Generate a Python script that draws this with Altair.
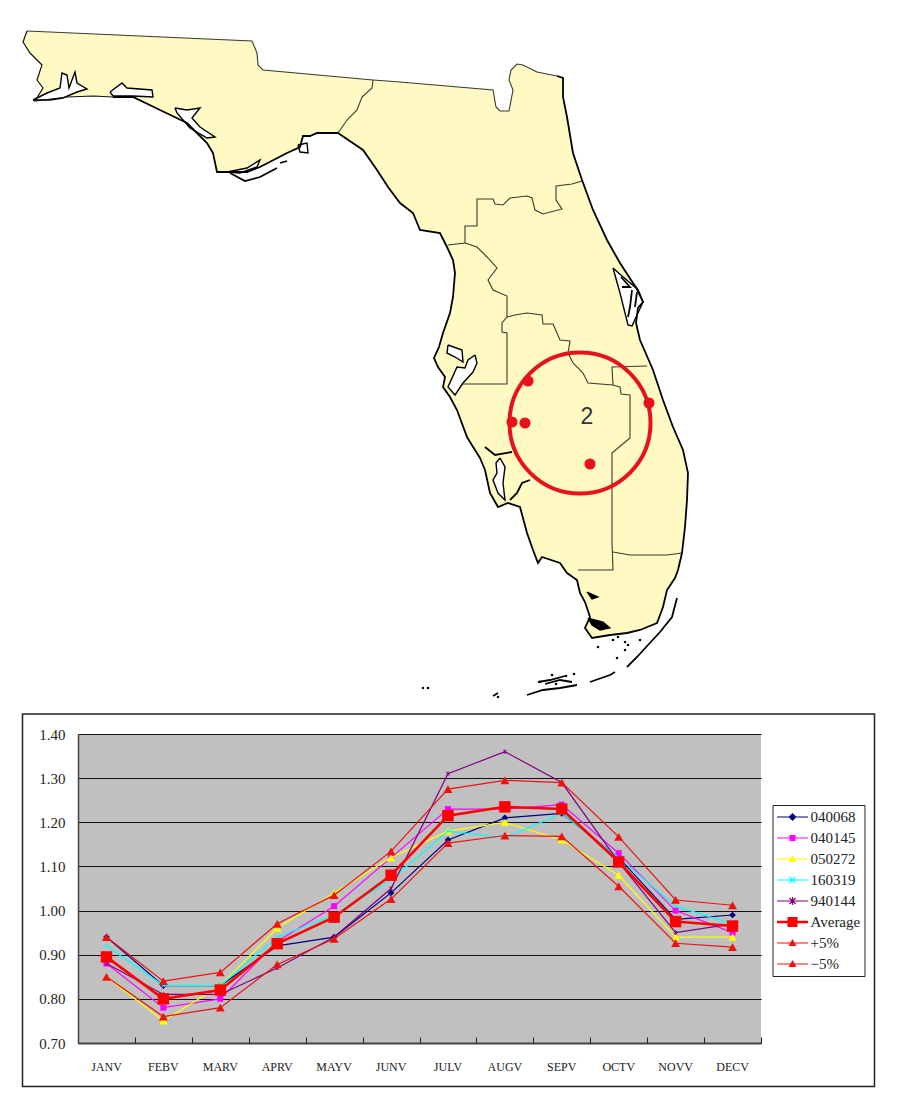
import altair as alt
import pandas as pd
import math

# ---------- line chart values ----------
months = ["JANV","FEBV","MARV","APRV","MAYV","JUNV","JULV","AUGV","SEPV","OCTV","NOVV","DECV"]
s040068 = [.94,.83,.83,.92,.94,1.04,1.16,1.21,1.22,1.12,.98,.99]
s040145 = [.88,.78,.80,.93,1.01,1.12,1.23,1.23,1.24,1.13,1.00,.95]
s050272 = [.85,.75,.83,.96,1.04,1.12,1.18,1.20,1.16,1.08,.94,.94]
s160319 = [.92,.83,.83,.94,.99,1.07,1.18,1.165,1.22,1.12,1.01,.97]
s940144 = [.88,.81,.81,.87,.94,1.05,1.31,1.36,1.29,1.11,.95,.97]
average = [.895,.80,.82,.925,.985,1.08,1.215,1.235,1.23,1.11,.975,.965]
plus5 = [.94,.84,.86,.97,1.035,1.134,1.275,1.295,1.29,1.167,1.024,1.012]
minus5 = [.85,.76,.78,.878,.936,1.026,1.153,1.17,1.168,1.055,.926,.917]
names = ["040068","040145","050272","160319","940144","Average","+5%","−5%"]
colors = ["#000080","#FF00FF","#FFFF00","#00FFFF","#800080","#FF0000","#F01010","#F01010"]
series = [s040068,s040145,s050272,s160319,s940144,average,plus5,minus5]

# ---------- map outlines ----------
north_border = [(27,31),(252,41),(257,53),(258,65),(263,70),(373,80),(400,82),(493,90),(496,107),(500,111),(509,111),
 (513,90),(509,80),(511,70),(517,64),(523,65),(537,72),(557,76)]
coast_ne = [(557,76),(563,78),(563,97),(567,117),(573,153),(582,180),(593,210),(607,240),(620,263),(633,283),(638,290),
 (643,302),(638,308),(636,323),(640,340),(653,370),(663,400),(673,427),(683,450),(688,473),(687,500),(685,527),(682,553)]
coast_se = [(682,553),(678,570),(675,578),(667,590),(663,607),(657,623),(640,630),(627,633),(610,635),(592,638),(585,628),
 (590,617),(585,602),(580,593),(577,580),(567,573),(560,563),(542,557),(538,563),(533,550),(527,533),(520,507),(508,503),
 (498,507),(490,493),(485,470),(480,458),(470,442),(467,437),(457,410),(450,397),(443,387),(445,377),(438,367),(434,358),
 (439,347),(443,333),(450,313),(453,297),(455,273),(453,260),(447,247),(440,233),(420,230),(413,213),(400,203),(388,187),
 (377,170),(363,150),(338,133)]
coast_bend = [(338,133),(317,133),(310,136),(303,136),(300,147),(287,153),(260,167),(247,172),(227,172),(217,172),(213,153),
 (207,143),(187,123),(160,110),(133,97),(113,97),(93,96),(67,97),(35,101),(43,88),(37,80),(42,65),(30,53),(23,42),(27,31)]
state = north_border + coast_ne[1:] + coast_se[1:] + coast_bend[1:]
bay_pensacola = [(33,100),(47,93),(60,88),(62,73),(67,75),(69,88),(75,72),(77,83),(87,89),(77,92),(63,98),(50,100),(33,100)]
bay_choctaw = [(110,92),(122,83),(127,88),(152,90),(153,97),(133,96),(113,96),(110,92)]
bay_standrew = [(175,108),(187,110),(200,108),(192,118),(200,127),(215,137),(207,138),(190,128),(177,113),(175,108)]
bay_stmarks = [(298,145),(307,143),(308,153),(300,152),(298,145)]
bay_apalach = [(227,172),(240,173),(257,167),(260,160),(247,168),(227,172)]
bay_oldtampa = [(448,345),(462,350),(463,362),(455,357),(447,353),(448,345)]
bay_tampa = [(475,355),(477,363),(473,372),(463,383),(455,395),(448,387),(457,367),(465,368),(468,360),(475,355)]
bay_charlotte = [(500,458),(505,467),(503,483),(505,500),(498,493),(493,480),(497,473),(496,463),(500,458)]
bay_whitewater = [(588,618),(603,622),(610,628),(600,630),(592,625),(588,618)]
bay_oyster = [(587,592),(598,597),(592,599),(587,592)]
lagoon_north = [(613,268),(622,276),(636,288),(643,302),(637,315),(632,326),(628,325),(620,293),(613,268)]
div_1 = [(373,80),(372,88),(362,97),(357,110),(347,120),(338,133)]
div_2 = [(582,181),(572,184),(556,186),(556,200),(562,209),(543,214),(535,210),(532,198),(527,196),(510,198),
 (503,205),(495,204),(493,199),(477,199),(477,226),(465,226),(465,243),(448,245)]
div_3 = [(465,243),(477,247),(487,257),(497,268),(488,280),(493,290),(507,296),(507,317),(515,315),(527,313),
 (542,315),(543,324),(553,324),(560,340),(570,341),(568,353),(573,363),(583,373),(588,383),(613,385),(620,387),
 (621,394),(630,395),(630,438),(612,453),(612,543),(613,570),(578,570)]
div_4 = [(507,317),(502,323),(502,332),(507,333),(507,384),(463,384)]
div_5 = [(647,366),(612,367),(613,385)]
div_6 = [(613,552),(630,555),(667,555),(682,553)]
river_1 = [(485,447),(495,455),(512,452)]
river_2 = [(530,480),(522,483),(517,493),(510,500)]
merritt_1 = [(621,277),(630,287),(622,287)]
merritt_2 = [(632,290),(630,307),(628,317)]
merritt_3 = [(637,292),(635,307)]
barrier_sg = [(230,173),(245,181),(260,177),(277,168)]
barrier_dog = [(280,163),(287,161)]
keys_1 = [(677,598),(672,617),(660,632),(648,645),(637,657),(627,667)]
keys_2 = [(615,672),(610,675),(590,682)]
keys_3 = [(527,695),(543,690),(560,688),(577,685)]
keys_4 = [(538,682),(550,680),(565,676)]
keys_5 = [(545,684),(560,680),(572,682)]
keys_6 = [(493,696),(498,693)]
islets_x = [613,625,628,625,640,618,598,617,423,428,498,540,552,566,574,556]
islets_y = [640,642,645,650,640,637,647,658,688,688,697,682,675,676,674,684]
ring_center = [(580,423)]
stations = [(528,381),(512,422),(525,423),(649,403),(590,464)]
zone_label = [(587,417,"2")]

def table(groups):
    rows = []
    for g, pts in enumerate(groups):
        rows += [{"g": g, "i": i, "x": p[0], "y": p[1]} for i, p in enumerate(pts)]
    return pd.DataFrame(rows)

W_MAP, H_MAP = 796, 684
mx = alt.X("x:Q", axis=None, scale=alt.Scale(domain=[78, 874], nice=False, zero=False))
my = alt.Y("y:Q", axis=None, scale=alt.Scale(domain=[700, 16], nice=False, zero=False))

def outlines(groups, **mark):
    return alt.Chart(table(groups)).mark_line(**mark).encode(
        x=mx, y=my, detail="g:N", order="i:Q")

map_layers = [
    outlines([state], fill="#FFF9C4", stroke="#FFF9C4", strokeWidth=0.5),
    outlines([bay_pensacola, bay_choctaw, bay_standrew, bay_stmarks, bay_apalach, bay_oldtampa, bay_tampa, bay_charlotte, lagoon_north],
             fill="#FFFFFF", stroke="#000000", strokeWidth=1.4),
    outlines([bay_whitewater, bay_oyster], fill="#000000", stroke="#000000", strokeWidth=1.2),
    outlines([div_1, div_2, div_3, div_4, div_5, div_6, north_border], stroke="#3A3A30", strokeWidth=1.1),
    outlines([coast_ne, coast_se, coast_bend[:16], river_1, river_2, merritt_1, merritt_2, merritt_3,
              barrier_sg, barrier_dog, keys_1, keys_2, keys_3, keys_4, keys_5, keys_6],
             stroke="#000000", strokeWidth=1.8),
    outlines([coast_bend[15:]], stroke="#111111", strokeWidth=1.2),
    alt.Chart(pd.DataFrame({"x": islets_x, "y": islets_y})).mark_point(filled=True, shape="square", color="#000000", size=5, opacity=1).encode(x=mx, y=my),
    alt.Chart(table([ring_center])).mark_point(filled=False, color="#E8121C", strokeWidth=4, size=19900, opacity=1).encode(x=mx, y=my),
    alt.Chart(table([stations])).mark_point(filled=True, color="#E8121C", size=125, opacity=1).encode(x=mx, y=my),
    alt.Chart(pd.DataFrame(zone_label, columns=["x","y","t"])).mark_text(font="Liberation Sans", fontSize=23, color="#333333").encode(x=mx, y=my, text="t:N"),
]
map_chart = alt.layer(*map_layers).properties(width=W_MAP, height=H_MAP)

# ---------- chart ----------
rows = []
for n, vals in zip(names, series):
    rows += [{"series": n, "month": m, "value": v} for m, v in zip(months, vals)]
df = pd.DataFrame(rows)

W, H = 683, 309
xscale = alt.Scale(type="band", paddingInner=0, paddingOuter=0)
yscale = alt.Scale(domain=[0.7, 1.4], nice=False, zero=False)
colorscale = alt.Scale(domain=names, range=colors)
FONT = "Liberation Serif"

def poly(p):
    area = sum(p[i][0]*p[(i+1)%len(p)][1]-p[(i+1)%len(p)][0]*p[i][1] for i in range(len(p)))
    if area < 0:
        p = p[::-1]
    U = 8.0
    return "M" + "L".join(f"{(a-7.5)/U:.3f},{b/U:.3f}" for a, b in p) + "Z"

def bar(x1, y1, x2, y2, w):
    d = math.hypot(x2-x1, y2-y1)
    nx, ny = -(y2-y1)/d*w/2, (x2-x1)/d*w/2
    return poly([(x1+nx,y1+ny),(x1-nx,y1-ny),(x2-nx,y2-ny),(x2+nx,y2+ny)])

def shift(r): return [(15.5+a, b) for a, b in r]
def line(w): return bar(0, 0, 31, 0, w)
mid = 15.5
legend_paths = [
    line(1.2) + poly(shift([(0,-4),(4,0),(0,4),(-4,0)])),
    line(1.2) + poly(shift([(-3,-3),(3,-3),(3,3),(-3,3)])),
    line(1.2) + poly(shift([(0,-4),(4,3),(-4,3)])),
    line(1.2) + bar(mid-3,-3,mid+3,3,1.2) + bar(mid-3,3,mid+3,-3,1.2),
    line(1.2) + bar(mid-3,-3,mid+3,3,1.2) + bar(mid-3,3,mid+3,-3,1.2) + bar(mid,-4,mid,4,1.2),
    line(2.5) + poly(shift([(-5,-5),(5,-5),(5,5),(-5,5)])),
    line(1.2) + poly(shift([(0,-4),(4,3),(-4,3)])),
    line(1.2) + poly(shift([(0,-4),(4,3),(-4,3)])),
]

base = alt.Chart(df)
frame = alt.Chart(pd.DataFrame({"a":[0]})).mark_rect(fillOpacity=0, stroke="#222222", strokeWidth=1.5).encode(
    x=alt.value(-55.5), x2=alt.value(796.5), y=alt.value(-20), y2=alt.value(352.5))

label_axis = alt.Axis(title=None, labelFont=FONT, labelFontSize=12, labelColor="#222222", tickSize=0, labelPadding=18,
                      labelAngle=0, domainColor="#444444", domainWidth=2, grid=False)
tick_axis = alt.Axis(orient="top", offset=-H, labels=False, title=None, tickBand="extent", tickSize=6, tickColor="#222222",
                     domain=False, grid=False)
y_axis = alt.Axis(title=None, values=[.7,.8,.9,1.0,1.1,1.2,1.3,1.4], format=".2f", labelFont=FONT, labelFontSize=15,
                  labelColor="#222222", tickSize=0, labelPadding=13, grid=True, gridColor="#111111", gridWidth=1,
                  domainColor="#444444", domainWidth=1.5)

axes_a = base.mark_line(opacity=0).encode(
    x=alt.X("month:N", sort=months, scale=xscale, axis=label_axis),
    y=alt.Y("value:Q", scale=yscale, axis=y_axis), detail="series:N")
axes_b = base.mark_line(opacity=0).encode(
    x=alt.X("month:N", sort=months, scale=xscale, axis=tick_axis),
    y=alt.Y("value:Q", scale=yscale, axis=None), detail="series:N")

marker = {
    "040068": dict(shape="diamond", size=45, filled=True),
    "040145": dict(shape="square", size=36, filled=True),
    "050272": dict(shape="triangle-up", size=70, filled=True),
    "160319": dict(shape="M-.5,-.5L.5,.5M-.5,.5L.5,-.5", size=45, filled=False),
    "940144": dict(shape="M-.5,-.5L.5,.5M-.5,.5L.5,-.5M0,-.65L0,.65", size=45, filled=False),
    "Average": dict(shape="square", size=130, filled=True),
    "+5%": dict(shape="triangle-up", size=80, filled=True),
    "−5%": dict(shape="triangle-up", size=80, filled=True),
}

legend_opts = dict(title=None, orient="none", legendX=694.5, legendY=789, fillColor="#FFFFFF", strokeColor="#222222",
        padding=4, labelFont=FONT, labelFontSize=15, labelColor="#222222", symbolSize=256, rowPadding=5,
        labelOffset=18, symbolOpacity=1, symbolStrokeWidth=0)
legend_layer = base.transform_filter("false").mark_point(filled=True, opacity=1).encode(
    x=alt.X("month:N", sort=months, scale=xscale, axis=None),
    y=alt.Y("value:Q", scale=yscale, axis=None),
    color=alt.Color("series:N", scale=colorscale, legend=alt.Legend(**legend_opts)),
    shape=alt.Shape("series:N", scale=alt.Scale(domain=names, range=legend_paths), legend=alt.Legend(**legend_opts)),
)

layers = [frame, legend_layer, axes_a, axes_b]
for n in names:
    sub = df[df["series"] == n]
    m = marker[n]
    c = alt.Chart(sub)
    enc = dict(x=alt.X("month:N", sort=months, scale=xscale, axis=None),
               y=alt.Y("value:Q", scale=yscale, axis=None),
               color=alt.Color("series:N", scale=colorscale))
    layers.append(c.mark_line(strokeWidth=2.6 if n == "Average" else 1.2).encode(**enc))
    layers.append(c.mark_point(filled=m["filled"], opacity=1, strokeWidth=1).encode(
        shape=alt.value(m["shape"]), size=alt.value(m["size"]), **enc))

line_chart = alt.layer(*layers).resolve_axis(x="independent", y="independent").properties(
    width=W, height=H, view=alt.ViewBackground(fill="#C0C0C0", stroke="#808080"))

chart = alt.vconcat(map_chart, line_chart, spacing=13).properties(
    padding={"left": 12, "top": 8, "right": 0, "bottom": 0}, background="#FFFFFF"
).configure_view(strokeWidth=0)

chart.save("out.html", embed_options={"renderer": "svg", "actions": False})
